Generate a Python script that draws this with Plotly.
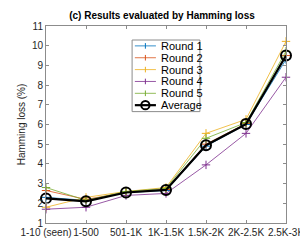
import plotly.graph_objects as go

categories = ["1-10 (seen)", "1-500", "501-1K", "1K-1.5K", "1.5K-2K", "2K-2.5K", "2.5K-3K"]
round1 = [2.30, 2.15, 2.55, 2.65, 4.90, 6.00, 9.30]
round2 = [2.65, 2.20, 2.55, 2.70, 5.00, 6.05, 9.50]
round3 = [1.80, 2.30, 2.60, 2.80, 5.55, 6.26, 10.22]
round4 = [1.70, 1.80, 2.40, 2.50, 3.95, 5.55, 8.40]
round5 = [2.80, 2.15, 2.60, 2.75, 5.30, 6.10, 9.72]
average = [2.25, 2.10, 2.55, 2.68, 4.95, 6.02, 9.50]

names = ["Round 1", "Round 2", "Round 3", "Round 4", "Round 5"]
colors = ["#0072BD", "#D95319", "#EDB120", "#7E2F8E", "#77AC30"]
series = [round1, round2, round3, round4, round5]

FONT = "Liberation Sans, Arial, sans-serif"
W, H = 308, 242
ML, MR, MT, MB = 29, 17, 14, 17
PW, PH = W - ML - MR, H - MT - MB

x = list(range(len(categories)))
fig = go.Figure()
for n, c, s in zip(names, colors, series):
    fig.add_trace(go.Scatter(x=x, y=s, name=n, mode="lines+markers",
                             line=dict(color=c, width=0.8),
                             marker=dict(symbol="cross-thin", size=6, line=dict(color=c, width=1)),
                             cliponaxis=False))
fig.add_trace(go.Scatter(x=x, y=average, name="Average", mode="lines+markers",
                         line=dict(color="black", width=2.2),
                         marker=dict(symbol="circle-open", size=10, color="black", line=dict(width=2)),
                         cliponaxis=False))

axis_common = dict(showline=True, linecolor="#8c8c8c", linewidth=1, mirror="ticks",
                   ticks="inside", ticklen=3, tickcolor="#8c8c8c", showgrid=False, zeroline=False,
                   tickfont=dict(family=FONT, size=10, color="#262626"))
fig.update_xaxes(range=[0, 6], tickmode="array", tickvals=x, ticktext=categories,
                 tickangle=0, ticklabeloverflow="allow", **axis_common)
fig.update_yaxes(range=[1, 11], tickmode="array", tickvals=list(range(1, 12)),
                 title=dict(text="Hamming loss (%)", standoff=4,
                            font=dict(family=FONT, size=10, color="#262626")),
                 **axis_common)

# ---- compact MATLAB-style legend box (drawn in paper coordinates) ----
def px(v):
    return (v - ML) / PW

def py(v):
    return (H - MB - v) / PH

box_l, box_r, box_t = 123, 197, 29
row_h = 12.7
leg_names = names + ["Average"]
leg_colors = colors + ["black"]
box_b = box_t + row_h * len(leg_names) + 0.5
shapes = [dict(type="rect", xref="paper", yref="paper", x0=px(box_l), x1=px(box_r),
               y0=py(box_b), y1=py(box_t), fillcolor="white",
               line=dict(color="#8c8c8c", width=1), layer="above")]
annotations = []
for i, (n, c) in enumerate(zip(leg_names, leg_colors)):
    yc = box_t + 6.3 + i * row_h
    is_avg = (n == "Average")
    shapes.append(dict(type="line", xref="paper", yref="paper", x0=px(126), x1=px(149),
                       y0=py(yc), y1=py(yc), line=dict(color=c, width=2.2 if is_avg else 0.8),
                       layer="above"))
    if is_avg:
        shapes.append(dict(type="circle", xref="paper", yref="paper",
                           x0=px(137.5 - 4.5), x1=px(137.5 + 4.5),
                           y0=py(yc + 4.5), y1=py(yc - 4.5),
                           line=dict(color="black", width=2), fillcolor="rgba(0,0,0,0)",
                           layer="above"))
    else:
        shapes.append(dict(type="line", xref="paper", yref="paper", x0=px(137.5), x1=px(137.5),
                           y0=py(yc - 3), y1=py(yc + 3), line=dict(color=c, width=1),
                           layer="above"))
    annotations.append(dict(text=n, xref="paper", yref="paper", x=px(152), y=py(yc),
                            xanchor="left", yanchor="middle", showarrow=False,
                            font=dict(family=FONT, size=11, color="black")))

fig.update_layout(
    width=W, height=H,
    margin=dict(l=ML, r=MR, t=MT, b=MB),
    paper_bgcolor="white", plot_bgcolor="white",
    title=dict(text="<b>(c) Results evaluated by Hamming loss</b>", x=0.5, xanchor="center",
               y=0.985, yanchor="top",
               font=dict(family=FONT, size=10, color="black")),
    showlegend=False,
    shapes=shapes,
    annotations=annotations,
)

fig.write_html("out.html")
